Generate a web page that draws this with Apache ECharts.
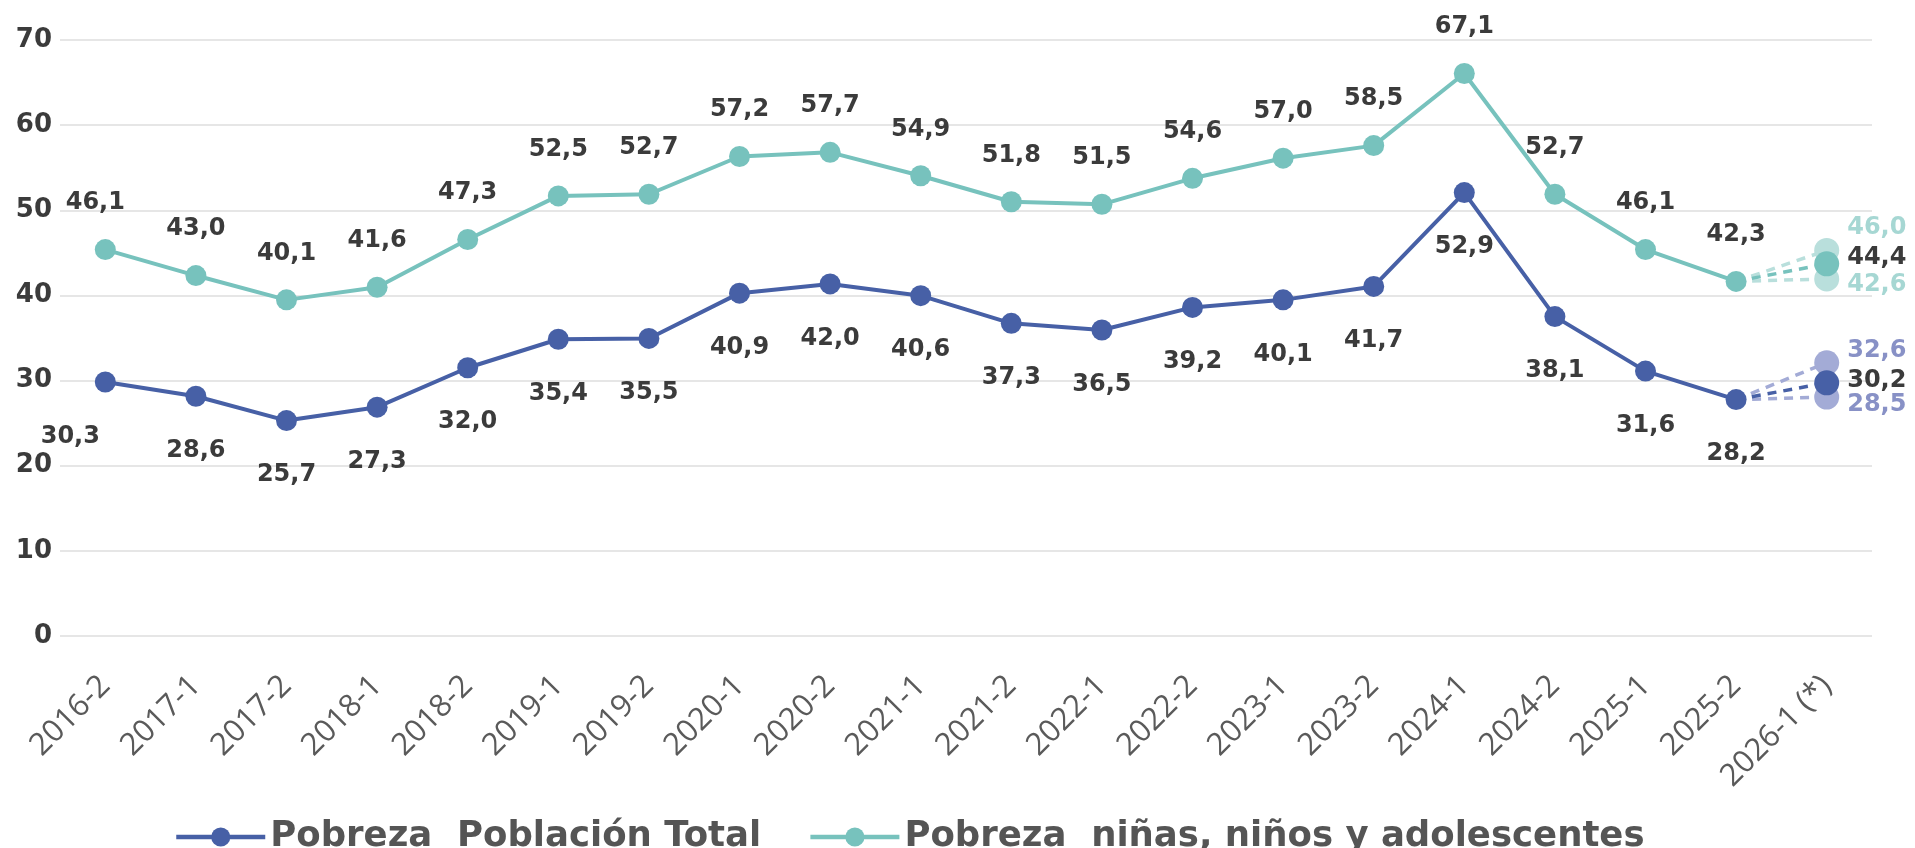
<!DOCTYPE html>
<html>
<head>
<meta charset="utf-8">
<script src="https://cdn.jsdelivr.net/npm/echarts@6/dist/echarts.min.js"></script>
<style>
  html, body { margin: 0; padding: 0; background: #fff; }
  #chart { width: 1915px; height: 848px; }
</style>
</head>
<body>
<div id="chart"></div>
<script>
// periodos (semestres)
const categories = ['2016-2', '2017-1', '2017-2', '2018-1', '2018-2', '2019-1', '2019-2', '2020-1', '2020-2',
  '2021-1', '2021-2', '2022-1', '2022-2', '2023-1', '2023-2', '2024-1', '2024-2', '2025-1', '2025-2', '2026-1 (*)'];

const totalPoverty = [30.3, 28.6, 25.7, 27.3, 32.0, 35.4, 35.5, 40.9, 42.0, 40.6, 37.3, 36.5, 39.2, 40.1, 41.7, 52.9, 38.1, 31.6, 28.2];
const childPoverty = [46.1, 43.0, 40.1, 41.6, 47.3, 52.5, 52.7, 57.2, 57.7, 54.9, 51.8, 51.5, 54.6, 57.0, 58.5, 67.1, 52.7, 46.1, 42.3];

// proyeccion 2026-1: [baja, central, alta]
const totalProjection = [28.5, 30.2, 32.6];
const childProjection = [42.6, 44.4, 46.0];

const yTicks = [0, 10, 20, 30, 40, 50, 60, 70];

const BLUE = '#4760a6';
const BLUE_LIGHT = '#a3abd6';
const BLUE_LABEL = '#8891c6';
const TEAL = '#77c2bd';
const TEAL_LIGHT = '#b9dfdc';
const TEAL_LABEL = '#a6d7d3';
const LABEL_DARK = '#3b3b3b';
const BOLD_FONT = 'DejaVu Sans';

const fmt = v => Number(v).toFixed(1).replace('.', ',');

function mainSeries(name, values, color, pos, dist, firstOffset) {
    let data = values.map((v, i) => i === 0 ? { value: v, label: { offset: firstOffset } } : v);
    return {
        name: name,
        type: 'line',
        yAxisIndex: 1,
        data: data,
        symbol: 'circle',
        symbolSize: 21,
        z: 5,
        itemStyle: { color: color },
        lineStyle: { color: color, width: 4 },
        label: {
            show: true,
            position: pos,
            distance: dist,
            color: LABEL_DARK,
            fontFamily: BOLD_FONT,
            fontWeight: 'bold',
            fontSize: 24,
            formatter: p => fmt(p.value)
        }
    };
}

function projSeries(name, base, value, color, lineColor, labelColor, offsetY, z) {
    let last = base.length - 1;
    let data = categories.map((c, i) => {
        if (i === last) return { value: base[i], symbol: 'none', label: { show: false } };
        if (i === last + 1) return value;
        return null;
    });
    return {
        name: name,
        type: 'line',
        yAxisIndex: 1,
        data: data,
        symbol: 'circle',
        symbolSize: 25,
        z: z,
        itemStyle: { color: color },
        lineStyle: { color: lineColor, width: 3.5, type: [9, 7] },
        label: {
            show: true,
            position: 'right',
            distance: 8,
            offset: [0, offsetY],
            color: labelColor,
            fontFamily: BOLD_FONT,
            fontWeight: 'bold',
            fontSize: 24,
            formatter: p => fmt(p.value)
        }
    };
}

let chart = echarts.init(document.getElementById('chart'));
chart.setOption({
    animation: false,
    backgroundColor: '#ffffff',
    grid: {
        left: 60,
        right: 43,
        top: 40,
        bottom: 212,
        containLabel: false,
        outerBoundsMode: 'none'
    },
    legend: {
        data: ['Pobreza  Población Total', 'Pobreza  niñas, niños y adolescentes'],
        left: 169,
        top: 814,
        itemWidth: 89,
        itemHeight: 24,
        itemGap: 47,
        lineStyle: { width: 4.5 },
        textStyle: {
            color: '#555555',
            fontFamily: BOLD_FONT,
            fontWeight: 'bold',
            fontSize: 35.5
        }
    },
    xAxis: {
        type: 'category',
        data: categories,
        boundaryGap: true,
        axisLine: { show: false },
        axisTick: { show: false },
        axisLabel: {
            interval: 0,
            rotate: 45,
            margin: 45,
            color: '#5a5a5a',
            fontFamily: 'Open Sans',
            fontSize: 31
        }
    },
    yAxis: [{
        type: 'value',
        min: yTicks[0],
        max: yTicks[yTicks.length - 1],
        interval: 10,
        axisLine: { show: false },
        axisTick: { show: false },
        axisLabel: {
            margin: 8,
            color: LABEL_DARK,
            fontFamily: BOLD_FONT,
            fontWeight: 'bold',
            fontSize: 26
        },
        splitLine: {
            lineStyle: { color: '#e6e6e6', width: 2 }
        }
    }, {
        // escala de los datos del grafico original (algo mas comprimida que la grilla)
        type: 'value',
        min: 0,
        max: 71.1,
        show: false,
        splitLine: { show: false }
    }],
    series: [
        projSeries('proy_total_baja', totalPoverty, totalProjection[0], BLUE_LIGHT, BLUE_LIGHT, BLUE_LABEL, 8, 2),
        projSeries('proy_total_alta', totalPoverty, totalProjection[2], BLUE_LIGHT, BLUE_LIGHT, BLUE_LABEL, -12, 2),
        projSeries('proy_total', totalPoverty, totalProjection[1], BLUE, BLUE, LABEL_DARK, -2, 3),
        projSeries('proy_nna_baja', childPoverty, childProjection[0], TEAL_LIGHT, TEAL_LIGHT, TEAL_LABEL, 6, 2),
        projSeries('proy_nna_alta', childPoverty, childProjection[2], TEAL_LIGHT, TEAL_LIGHT, TEAL_LABEL, -23, 2),
        projSeries('proy_nna', childPoverty, childProjection[1], TEAL, TEAL, LABEL_DARK, -6, 3),
        mainSeries('Pobreza  Población Total', totalPoverty, BLUE, 'bottom', 32, [-35, 0]),
        mainSeries('Pobreza  niñas, niños y adolescentes', childPoverty, TEAL, 'top', 24, [-10, 0])
    ]
});
</script>
</body>
</html>
